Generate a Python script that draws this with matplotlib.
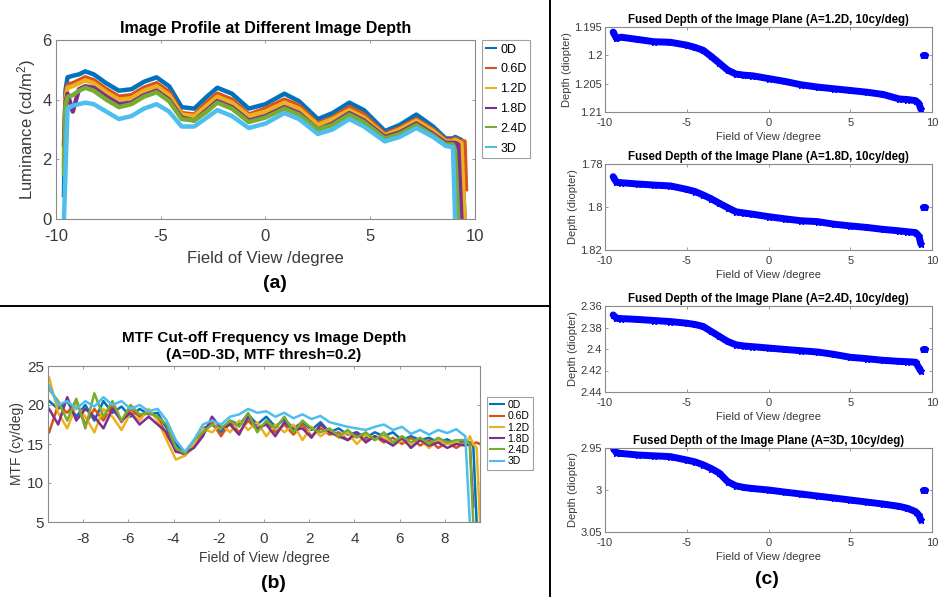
import numpy as np
import matplotlib
matplotlib.use("Agg")
import matplotlib.pyplot as plt
from matplotlib.lines import Line2D

plt.rcParams['font.family'] = ['Liberation Sans', 'DejaVu Sans']
plt.rcParams['mathtext.fontset'] = 'custom'
plt.rcParams['mathtext.rm'] = 'Liberation Sans'
plt.rcParams['mathtext.it'] = 'Liberation Sans'
plt.rcParams['axes.unicode_minus'] = False

W, H = 945, 601
nan = np.nan

# ---------------------------------------------------------------- data ---- #
SERIES = ["0D", "0.6D", "1.2D", "1.8D", "2.4D", "3D"]
COLORS = ["#0072BD", "#D95319", "#EDB120", "#7E2F8E", "#77AC30", "#4DBEEE"]

# (a) image profile: luminance vs field of view
XA = [-9.62, -9.55, -9.45, -9.2, -8.9, -8.6, -8.2, -7.6, -7.0, -6.4, -5.8, -5.2,
      -4.6, -4.0, -3.4, -2.8, -2.3, -1.6, -0.8, 0.0, 0.9, 1.6, 2.5, 3.2, 4.0,
      4.7, 5.7, 6.4, 7.2, 8.0, 8.6, 8.95, 9.05, 9.2, 9.35, 9.5, 9.57]
A_0D = [0.8, 4.3, 4.75, 4.8, 4.85, 4.95, 4.85, 4.55, 4.3, 4.35, 4.6, 4.75,
        4.45, 3.75, 3.7, 4.1, 4.4, 4.2, 3.7, 3.85, 4.2, 3.95, 3.35, 3.55, 3.9,
        3.65, 2.95, 3.15, 3.5, 3.1, 2.7, 2.7, 2.75, 2.7, 2.65, 0.0, nan]
A_06D = [1.8, 4.1, 4.5, 4.55, 4.65, 4.75, 4.65, 4.35, 4.1, 4.15, 4.4, 4.55,
         4.25, 3.55, 3.5, 3.9, 4.2, 4.0, 3.5, 3.7, 4.0, 3.8, 3.2, 3.4, 3.75,
         3.5, 2.85, 3.05, 3.35, 3.0, 2.65, 2.65, 2.7, 2.65, 2.6, 2.6, 1.0]
A_12D = [2.2, 4.0, 4.4, 4.45, 4.55, 4.65, 4.55, 4.25, 4.0, 4.05, 4.3, 4.45,
         4.15, 3.5, 3.45, 3.8, 4.1, 3.9, 3.45, 3.6, 3.9, 3.7, 3.15, 3.35, 3.65,
         3.4, 2.8, 3.0, 3.3, 2.95, 2.6, 2.6, 2.65, 2.6, 2.55, 0.0, nan]
A_18D = [2.5, 3.9, 4.2, 3.6, 4.35, 4.45, 4.4, 4.1, 3.85, 3.9, 4.15, 4.3,
         4.0, 3.4, 3.3, 3.65, 3.95, 3.75, 3.3, 3.45, 3.75, 3.55, 3.0, 3.2, 3.55,
         3.3, 2.75, 2.9, 3.2, 2.85, 2.55, 2.55, 2.55, 2.5, 0.0, nan, nan]
A_24D = [1.5, 3.8, 4.1, 4.15, 4.3, 4.4, 4.3, 4.0, 3.75, 3.85, 4.1, 4.25,
         3.95, 3.35, 3.3, 3.6, 3.9, 3.7, 3.25, 3.4, 3.7, 3.5, 3.0, 3.15, 3.5,
         3.25, 2.7, 2.85, 3.15, 2.8, 2.5, 2.5, 2.3, 0.0, nan, nan, nan]
A_3D = [0.0, 1.5, 3.7, 3.8, 3.85, 3.9, 3.85, 3.6, 3.35, 3.45, 3.7, 3.85,
        3.6, 3.1, 3.1, 3.4, 3.65, 3.45, 3.05, 3.2, 3.55, 3.35, 2.85, 3.0, 3.35,
        3.1, 2.6, 2.75, 3.05, 2.75, 2.45, 2.4, 0.0, nan, nan, nan, nan]

# (b) MTF cut-off frequency vs field of view
XB = [-9.5, -9.1, -8.7, -8.3, -7.9, -7.5, -7.1, -6.7, -6.3, -5.9, -5.5, -5.1,
      -4.7, -4.3, -3.9, -3.5, -3.1, -2.7, -2.3, -1.9, -1.5, -1.1, -0.7, -0.3,
      0.1, 0.5, 0.9, 1.3, 1.7, 2.1, 2.5, 2.9, 3.3, 3.7, 4.1, 4.5, 4.9, 5.3,
      5.7, 6.1, 6.5, 6.9, 7.3, 7.7, 8.1, 8.5, 8.9, 9.1, 9.25, 9.4, 9.55]
B_0D = [20.5, 19.5, 20.5, 18.5, 20.0, 18.0, 20.5, 19.0, 19.8, 18.5, 19.5, 18.8,
        19.0, 17.0, 15.0, 13.8, 15.0, 17.0, 17.5, 16.5, 18.0, 17.5, 18.8, 17.5,
        18.5, 17.2, 18.2, 17.0, 17.8, 16.8, 17.8, 16.5, 17.0, 16.2, 16.5, 15.8,
        16.5, 16.0, 16.5, 15.5, 16.0, 15.5, 15.8, 15.2, 15.6, 15.0, 15.5, 15.2,
        15.0, 5.0, nan]
B_06D = [16.5, 20.0, 19.0, 20.5, 17.5, 19.5, 18.0, 20.0, 17.8, 19.5, 18.5, 19.0,
         18.5, 16.0, 14.5, 13.5, 14.8, 16.5, 17.8, 16.0, 17.8, 16.5, 18.0, 16.8,
         17.8, 16.5, 17.5, 16.2, 17.5, 16.0, 17.0, 16.2, 16.5, 15.5, 16.2, 15.5,
         16.0, 15.2, 15.8, 15.0, 15.8, 14.8, 15.5, 14.5, 15.2, 14.5, 15.2, 14.8,
         15.0, 15.2, 15.0]
B_12D = [23.5, 19.0, 17.0, 20.0, 18.5, 16.5, 19.5, 18.5, 16.8, 19.0, 18.0, 19.5,
         18.0, 15.5, 13.0, 13.5, 15.0, 17.0, 16.5, 17.5, 16.5, 18.0, 16.8, 17.8,
         16.0, 17.5, 16.5, 17.5, 15.5, 17.2, 16.0, 16.8, 15.8, 16.5, 15.0, 16.2,
         15.5, 16.0, 14.8, 15.5, 14.8, 15.5, 14.5, 15.5, 15.0, 15.2, 14.8, 16.0,
         15.0, 14.5, 5.0]
B_18D = [19.5, 17.5, 21.0, 18.0, 19.5, 18.5, 17.0, 19.5, 18.0, 19.0, 17.5, 18.5,
         17.5, 16.5, 14.0, 13.8, 14.5, 16.0, 18.5, 17.0, 17.5, 16.2, 18.5, 17.0,
         17.5, 16.0, 17.8, 16.8, 17.0, 15.8, 17.5, 16.5, 16.0, 15.5, 16.5, 15.2,
         16.0, 15.5, 14.8, 15.8, 14.5, 15.5, 14.8, 15.2, 14.5, 15.0, 14.8, 15.0,
         7.0, nan, nan]
B_24D = [22.0, 20.5, 18.0, 20.8, 17.0, 21.5, 18.5, 20.5, 18.0, 20.0, 18.8, 19.0,
         18.5, 17.5, 14.5, 13.8, 15.5, 16.5, 17.5, 17.0, 18.0, 17.2, 19.0, 16.5,
         18.0, 17.0, 18.5, 16.5, 18.0, 17.0, 16.5, 17.0, 16.0, 16.8, 15.8, 16.5,
         15.5, 16.5, 15.2, 16.0, 15.2, 15.8, 15.0, 15.8, 15.2, 15.5, 15.5, 15.0,
         5.0, nan, nan]
B_3D = [22.5, 20.0, 20.5, 19.5, 20.5, 19.8, 21.0, 20.0, 20.5, 19.5, 20.0, 19.2,
        19.5, 18.0, 15.5, 14.0, 15.5, 17.5, 18.0, 17.5, 18.5, 18.8, 19.5, 19.0,
        19.2, 18.5, 19.0, 18.3, 18.8, 18.2, 18.6, 17.8, 17.5, 17.2, 17.0, 16.8,
        17.2, 17.5, 16.8, 17.2, 16.3, 16.8, 16.2, 16.8, 16.4, 16.9, 16.0, 5.0,
        nan, nan, nan]

# (c) fused depth of the image plane
XC = [-9.5, -9.3, -9.0, -8.0, -7.0, -6.0, -5.0, -4.5, -4.0, -3.5, -3.0, -2.5,
      -2.0, -1.5, -1.0, 0.0, 1.0, 2.0, 3.0, 4.0, 5.0, 6.0, 7.0, 8.0, 8.5, 9.0,
      9.2, 9.32]
C_12D = [1.1959, 1.1970, 1.1968, 1.1972, 1.1976, 1.1977, 1.1982, 1.1986,
         1.1991, 1.2002, 1.2014, 1.2026, 1.2033, 1.2035, 1.2036, 1.2041, 1.2046,
         1.2052, 1.2056, 1.2059, 1.2062, 1.2065, 1.2069, 1.2077, 1.2078, 1.2080,
         1.2085, 1.2095]
C_18D = [1.7859, 1.7885, 1.7887, 1.7893, 1.7898, 1.7902, 1.7918, 1.7928,
         1.7944, 1.7962, 1.7983, 1.8003, 1.8022, 1.8028, 1.8033, 1.8045, 1.8055,
         1.8064, 1.8068, 1.8080, 1.8088, 1.8095, 1.8104, 1.8111, 1.8115, 1.8119,
         1.8135, 1.8172]
C_24D = [2.3683, 2.3714, 2.3717, 2.3725, 2.3735, 2.3745, 2.3760, 2.3772,
         2.3790, 2.3837, 2.3883, 2.3930, 2.3960, 2.3972, 2.3978, 2.3991, 2.4004,
         2.4016, 2.4028, 2.4050, 2.4077, 2.4090, 2.4105, 2.4115, 2.4118, 2.4123,
         2.4175, 2.4206]
C_3D = [2.9500, 2.9556, 2.9565, 2.9583, 2.9593, 2.9603, 2.9643, 2.9665,
        2.9700, 2.9745, 2.9800, 2.9900, 2.9950, 2.9970, 2.9982, 3.0000, 3.0025,
        3.0048, 3.0072, 3.0095, 3.0119, 3.0143, 3.0167, 3.0195, 3.0218, 3.0258,
        3.0300, 3.0357]
# stray points at the right edge of each depth plot
XC_EDGE = [9.45, 9.55]
C_EDGE = {"1.2D": [1.2, 1.2], "1.8D": [1.8, 1.8], "2.4D": [2.4, 2.4], "3D": [3.0, 3.0]}

C_TICKS = {"1.2D": [1.195, 1.2, 1.205, 1.21],
           "1.8D": [1.78, 1.8, 1.82],
           "2.4D": [2.36, 2.38, 2.4, 2.42, 2.44],
           "3D": [2.95, 3.0, 3.05]}

# ------------------------------------------------------------- helpers ---- #
SPINE = "#8a8a8a"
TXT = "#3a3a3a"


def px_axes(fig, l, t, r, b):
    return fig.add_axes([l / W, 1 - b / H, (r - l) / W, (b - t) / H])


def matlab_style(ax, fs, xpad=2, ypad=2):
    for s in ax.spines.values():
        s.set_color(SPINE)
        s.set_linewidth(0.8)
    ax.tick_params(direction="in", top=True, right=True, length=2.5,
                   width=0.6, color=SPINE, labelcolor=TXT, labelsize=fs)
    ax.tick_params(axis="x", pad=xpad)
    ax.tick_params(axis="y", pad=ypad)


def small_legend(ax, x, y, fs, spacing, hlen):
    leg = ax.legend(loc="upper left", bbox_to_anchor=(x / W, 1 - y / H),
                    bbox_transform=fig.transFigure, fontsize=fs, frameon=True,
                    fancybox=False, borderpad=0.3, handlelength=hlen,
                    labelspacing=spacing, handletextpad=0.35, borderaxespad=0)
    leg.get_frame().set_edgecolor(SPINE)
    leg.get_frame().set_linewidth(0.8)
    for h in leg.get_lines():
        h.set_linewidth(1.5)
    return leg


fig = plt.figure(figsize=(W / 100, H / 100), dpi=100)

# ---------------------------------------------------------------- (a) ---- #
ax = px_axes(fig, 56, 40, 475, 219)
for name, col, ys in zip(SERIES, COLORS, [A_0D, A_06D, A_12D, A_18D, A_24D, A_3D]):
    ax.plot(XA, ys, color=col, lw=3.2, label=name, solid_joinstyle="round")
ax.set_xlim(-10, 10)
ax.set_ylim(0, 6)
ax.set_xticks([-10, -5, 0, 5, 10])
ax.set_yticks([0, 2, 4, 6])
matlab_style(ax, 12, xpad=7, ypad=3)
ax.set_xlabel("Field of View /degree", fontsize=12, color=TXT, labelpad=5)
ax.set_ylabel("Luminance (cd/m$^2$)", fontsize=12, color=TXT, labelpad=3)
ax.set_title("Image Profile at Different Image Depth", fontsize=11.5,
             fontweight="bold", pad=5)
small_legend(ax, 482, 40, 9, 0.62, 0.8)

# ---------------------------------------------------------------- (b) ---- #
ax = px_axes(fig, 48, 366, 480, 522)
for name, col, ys in zip(SERIES, COLORS, [B_0D, B_06D, B_12D, B_18D, B_24D, B_3D]):
    ax.plot(XB, ys, color=col, lw=1.8, label=name)
ax.set_xlim(-9.55, 9.55)
ax.set_ylim(5, 25)
ax.set_xticks(range(-8, 9, 2))
ax.set_yticks([5, 10, 15, 20, 25])
matlab_style(ax, 11, xpad=7, ypad=3)
ax.set_xlabel("Field of View /degree", fontsize=10, color=TXT, labelpad=4)
ax.set_ylabel("MTF (cy/deg)", fontsize=10, color=TXT, labelpad=2)
ax.set_title("MTF Cut-off Frequency vs Image Depth\n(A=0D-3D, MTF thresh=0.2)",
             fontsize=11, fontweight="bold", pad=5, linespacing=1.25)
small_legend(ax, 487, 397, 7.5, 0.12, 1.3)

# ---------------------------------------------------------------- (c) ---- #
c_boxes = [(27, 112), (164, 250), (306, 392), (448, 532)]
c_data = [("1.2D", C_12D), ("1.8D", C_18D), ("2.4D", C_24D), ("3D", C_3D)]
for (top, bot), (name, ys) in zip(c_boxes, c_data):
    ax = px_axes(fig, 605, top, 932, bot)
    ax.plot(XC, ys, color="blue", lw=5, marker="*", ms=5,
            solid_capstyle="round")
    ax.plot(XC_EDGE, C_EDGE[name], color="blue", lw=5, marker="*", ms=5,
            solid_capstyle="round")
    ticks = C_TICKS[name]
    ax.set_xlim(-10, 10)
    ax.set_ylim(ticks[-1], ticks[0])
    ax.set_yticks(ticks)
    ax.set_yticklabels([f"{t:g}" for t in ticks])
    ax.set_xticks([-10, -5, 0, 5, 10])
    matlab_style(ax, 8, xpad=4, ypad=2)
    ax.set_xlabel("Field of View /degree", fontsize=8, color=TXT, labelpad=3)
    ax.set_ylabel("Depth (diopter)", fontsize=8, color=TXT, labelpad=2)
    ax.set_title(f"Fused Depth of the Image Plane (A={name}, 10cy/deg)",
                 fontsize=8.3, fontweight="bold", pad=3)

# -------------------------------------------------- separators / labels ---- #
fig.add_artist(Line2D([0, 550 / W], [1 - 306 / H, 1 - 306 / H], color="black",
                      lw=1.4, transform=fig.transFigure))
fig.add_artist(Line2D([550 / W, 550 / W], [1 - 596 / H, 1.0], color="black",
                      lw=1.4, transform=fig.transFigure))
for lab, x, y in [("(a)", 275, 283), ("(b)", 273, 583), ("(c)", 767, 580)]:
    fig.text(x / W, 1 - y / H, lab, fontsize=14, fontweight="bold",
             ha="center", va="center")

fig.savefig("out.png", dpi=100)
